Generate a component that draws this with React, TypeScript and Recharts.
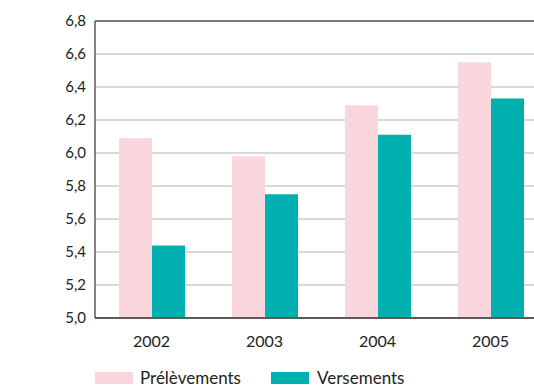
import { Bar, BarChart, CartesianGrid, ReferenceLine, XAxis, YAxis } from "recharts";

// années affichées et montants
const years = ["2002", "2003", "2004", "2005"];
const prelevements = [6.09, 5.98, 6.29, 6.55];
const versements = [5.44, 5.75, 6.11, 6.33];
const yTicks = [5.0, 5.2, 5.4, 5.6, 5.8, 6.0, 6.2, 6.4, 6.6, 6.8];

const PINK = "#fad7dc";
const TEAL = "#00b0ae";
const FONT = "Lato, 'Open Sans', sans-serif";

const data = years.map((y, i) => ({ year: y, prel: prelevements[i], vers: versements[i] }));

const fmt = (v: number) => v.toFixed(1).replace(".", ",");

export default function App() {
  return (
    // cadre recadré à la taille de la page, le graphique déborde à droite comme dans l'original
    <div style={{ position: "absolute", left: 0, top: 0, width: 534, height: 387, overflow: "hidden", background: "#fff", fontFamily: FONT }}>
      <div style={{ position: "absolute", left: 10, top: -19, fontSize: 16, color: "#222", whiteSpace: "nowrap" }}>
        (en milliards d’euros, prix courants)
      </div>
      <BarChart
        width={560}
        height={387}
        data={data}
        margin={{ top: 21, right: 13, bottom: 29, left: 0 }}
        barGap={0}
        barSize={33}
        style={{ position: "absolute", left: 0, top: 0 }}
      >
        <CartesianGrid horizontal vertical={false} stroke="#cccccc" strokeWidth={1.5} />
        <XAxis
          dataKey="year"
          height={40}
          tickLine={false}
          tickSize={0}
          tickMargin={18}
          axisLine={{ stroke: "#5a5a5a", strokeWidth: 2 }}
          tick={{ fill: "#222", fontSize: 16, fontFamily: FONT }}
        />
        <YAxis
          width={95}
          domain={[5, 6.8]}
          ticks={yTicks}
          interval={0}
          tickFormatter={fmt}
          tickLine={false}
          tickSize={0}
          tickMargin={9}
          axisLine={{ stroke: "#5a5a5a", strokeWidth: 1.5 }}
          tick={{ fill: "#222", fontSize: 15, fontFamily: FONT }}
        />
        <ReferenceLine y={6.8} stroke="#5a5a5a" strokeWidth={1.5} />
        <Bar dataKey="prel" name="Prélèvements" fill={PINK} isAnimationActive={false} />
        <Bar dataKey="vers" name="Versements" fill={TEAL} isAnimationActive={false} />
      </BarChart>
      <div style={{ position: "absolute", left: 95, top: 369, display: "flex", alignItems: "center", fontSize: 17, lineHeight: "17px", color: "#222" }}>
        <span style={{ width: 38, height: 12, background: PINK, display: "inline-block", marginRight: 7 }} />
        <span style={{ width: 131 }}>Prélèvements</span>
        <span style={{ width: 38, height: 12, background: TEAL, display: "inline-block", marginRight: 8 }} />
        <span>Versements</span>
      </div>
    </div>
  );
}
